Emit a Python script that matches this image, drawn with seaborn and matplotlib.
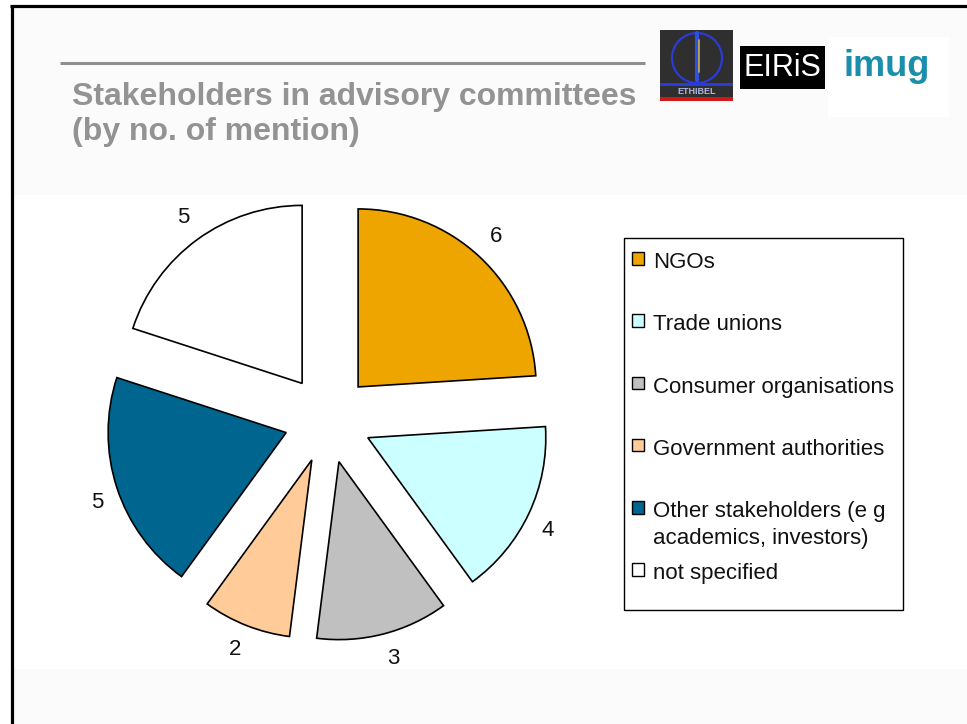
import matplotlib
matplotlib.use("Agg")
import matplotlib.pyplot as plt
from matplotlib.patches import Rectangle, Ellipse
from matplotlib.lines import Line2D
import seaborn as sns

# ---- data -------------------------------------------------------------
categories = [
    "NGOs",
    "Trade unions",
    "Consumer organisations",
    "Government authorities",
    "Other stakeholders (e g\nacademics, investors)",
    "not specified",
]
mentions = [6, 4, 3, 2, 5, 5]
slice_colors = ["#EEA500", "#CCFFFF", "#C0C0C0", "#FFCC99", "#006690", "#FFFFFF"]
title_lines = ["Stakeholders in advisory committees", "(by no. of mention)"]
logo_names = ["ETHIBEL", "EIRiS", "imug"]

# ---- canvas -----------------------------------------------------------
W, H = 967, 724
sns.set_theme(style="white")
plt.rcParams["font.family"] = ["Liberation Sans", "DejaVu Sans"]
palette = sns.color_palette(slice_colors)

fig = plt.figure(figsize=(W / 100, H / 100), dpi=100)
fig.patch.set_facecolor("white")


def fx(x):
    return x / W


def fy(y):
    return 1 - y / H


def frect(x0, y0, x1, y1, **kw):
    """Rectangle given in pixel corners (top-left origin)."""
    r = Rectangle((fx(x0), fy(y1)), (x1 - x0) / W, (y1 - y0) / H,
                  transform=fig.transFigure, **kw)
    fig.add_artist(r)
    return r


# slide bands (very light grey header and footer)
frect(12, 6, W, 195, facecolor="#FBFBFB", edgecolor="none", zorder=0)
frect(12, 669, W, H, facecolor="#FBFBFB", edgecolor="none", zorder=0)

# slide frame (left and top edges)
fig.add_artist(Line2D([fx(11.5), fx(11.5)], [fy(4.5), fy(H)], color="black",
                      lw=2.3, solid_capstyle="butt", transform=fig.transFigure, zorder=5))
fig.add_artist(Line2D([fx(10), fx(W)], [fy(5.5), fy(5.5)], color="black",
                      lw=2.3, solid_capstyle="butt", transform=fig.transFigure, zorder=5))

# title rule and title
fig.add_artist(Line2D([fx(60), fx(645)], [fy(63.3), fy(63.3)], color="#8F8F8F",
                      lw=2.2, solid_capstyle="butt", transform=fig.transFigure))
for line, base in zip(title_lines, [105, 140]):
    fig.text(fx(72), fy(base), line, fontsize=23, fontweight="bold",
             color="#939393", va="baseline", ha="left")

# ---- logos ------------------------------------------------------------
# ETHIBEL
frect(660, 30, 733, 101, facecolor="#2F2F2F", edgecolor="none", zorder=2)
fig.add_artist(Ellipse((fx(697), fy(58)), 50 / W, 50 / H, facecolor="none",
                       edgecolor="#2A3BD8", lw=1.6, transform=fig.transFigure, zorder=3))
fig.add_artist(Line2D([fx(697), fx(697)], [fy(33), fy(80)], color="#3050E0",
                      lw=3, transform=fig.transFigure, zorder=3))
fig.add_artist(Line2D([fx(699), fx(699)], [fy(40), fy(72)], color="#C8B040",
                      lw=1.2, transform=fig.transFigure, zorder=3))
frect(660, 83, 733, 86, facecolor="#2A3BD8", edgecolor="none", zorder=3)
frect(660, 97, 733, 101, facecolor="#D01818", edgecolor="none", zorder=3)
fig.text(fx(696.5), fy(91.5), logo_names[0], fontsize=6.5, fontweight="bold",
         color="#B0B8E0", ha="center", va="center", zorder=4)
# EIRiS
frect(740, 45.7, 825, 89, facecolor="black", edgecolor="none", zorder=2)
fig.text(fx(782.5), fy(68), logo_names[1], fontsize=22, color="white",
         ha="center", va="center", zorder=3)
# imug
frect(828, 36.7, 949, 116.7, facecolor="white", edgecolor="none", zorder=2)
fig.text(fx(887), fy(76), logo_names[2], fontsize=26, fontweight="bold",
         color="#1B8EAB", ha="center", va="baseline", zorder=3)

# ---- pie --------------------------------------------------------------
cx, cy, rad = 328, 419, 178      # pixel centre and radius of the pie
half = 250
ax = fig.add_axes([fx(cx - half), fy(cy + half), 2 * half / W, 2 * half / H])
wedges, texts = ax.pie(
    mentions,
    colors=palette,
    labels=[str(v) for v in mentions],
    startangle=90,
    counterclock=False,
    explode=[44 / rad] * len(mentions),
    labeldistance=1.08,
    wedgeprops=dict(edgecolor="black", linewidth=1.2),
    textprops=dict(fontsize=16, color="#111111"),
)
# labels sit just outside the rim, anchored by their nearest corner
for t in texts:
    x, y = t.get_position()
    t.set_ha("left" if x > 0 else "right")
    t.set_va("bottom" if y > 0 else "top")
lim = half / rad
ax.set_xlim(-lim, lim)
ax.set_ylim(-lim, lim)
ax.set_aspect("equal")
ax.axis("off")

# ---- legend -----------------------------------------------------------
frect(624, 238.3, 902.7, 610, facecolor="white", edgecolor="black", lw=1.0, zorder=2)
row_top, pitch, line_gap = 260.7, 62.2, 26.7
for i, (name, col) in enumerate(zip(categories, palette)):
    yc = row_top + i * pitch
    frect(632, yc - 8.6, 644.4, yc + 4.0, facecolor=col, edgecolor="black",
          lw=1.0, zorder=3)
    for j, part in enumerate(name.split("\n")):
        fig.text(fx(652.7), fy(yc + 7.5 + j * line_gap), part, fontsize=16,
                 color="#111111", ha="left", va="baseline", zorder=3)

fig.savefig("out.png", dpi=100, facecolor=fig.get_facecolor())
